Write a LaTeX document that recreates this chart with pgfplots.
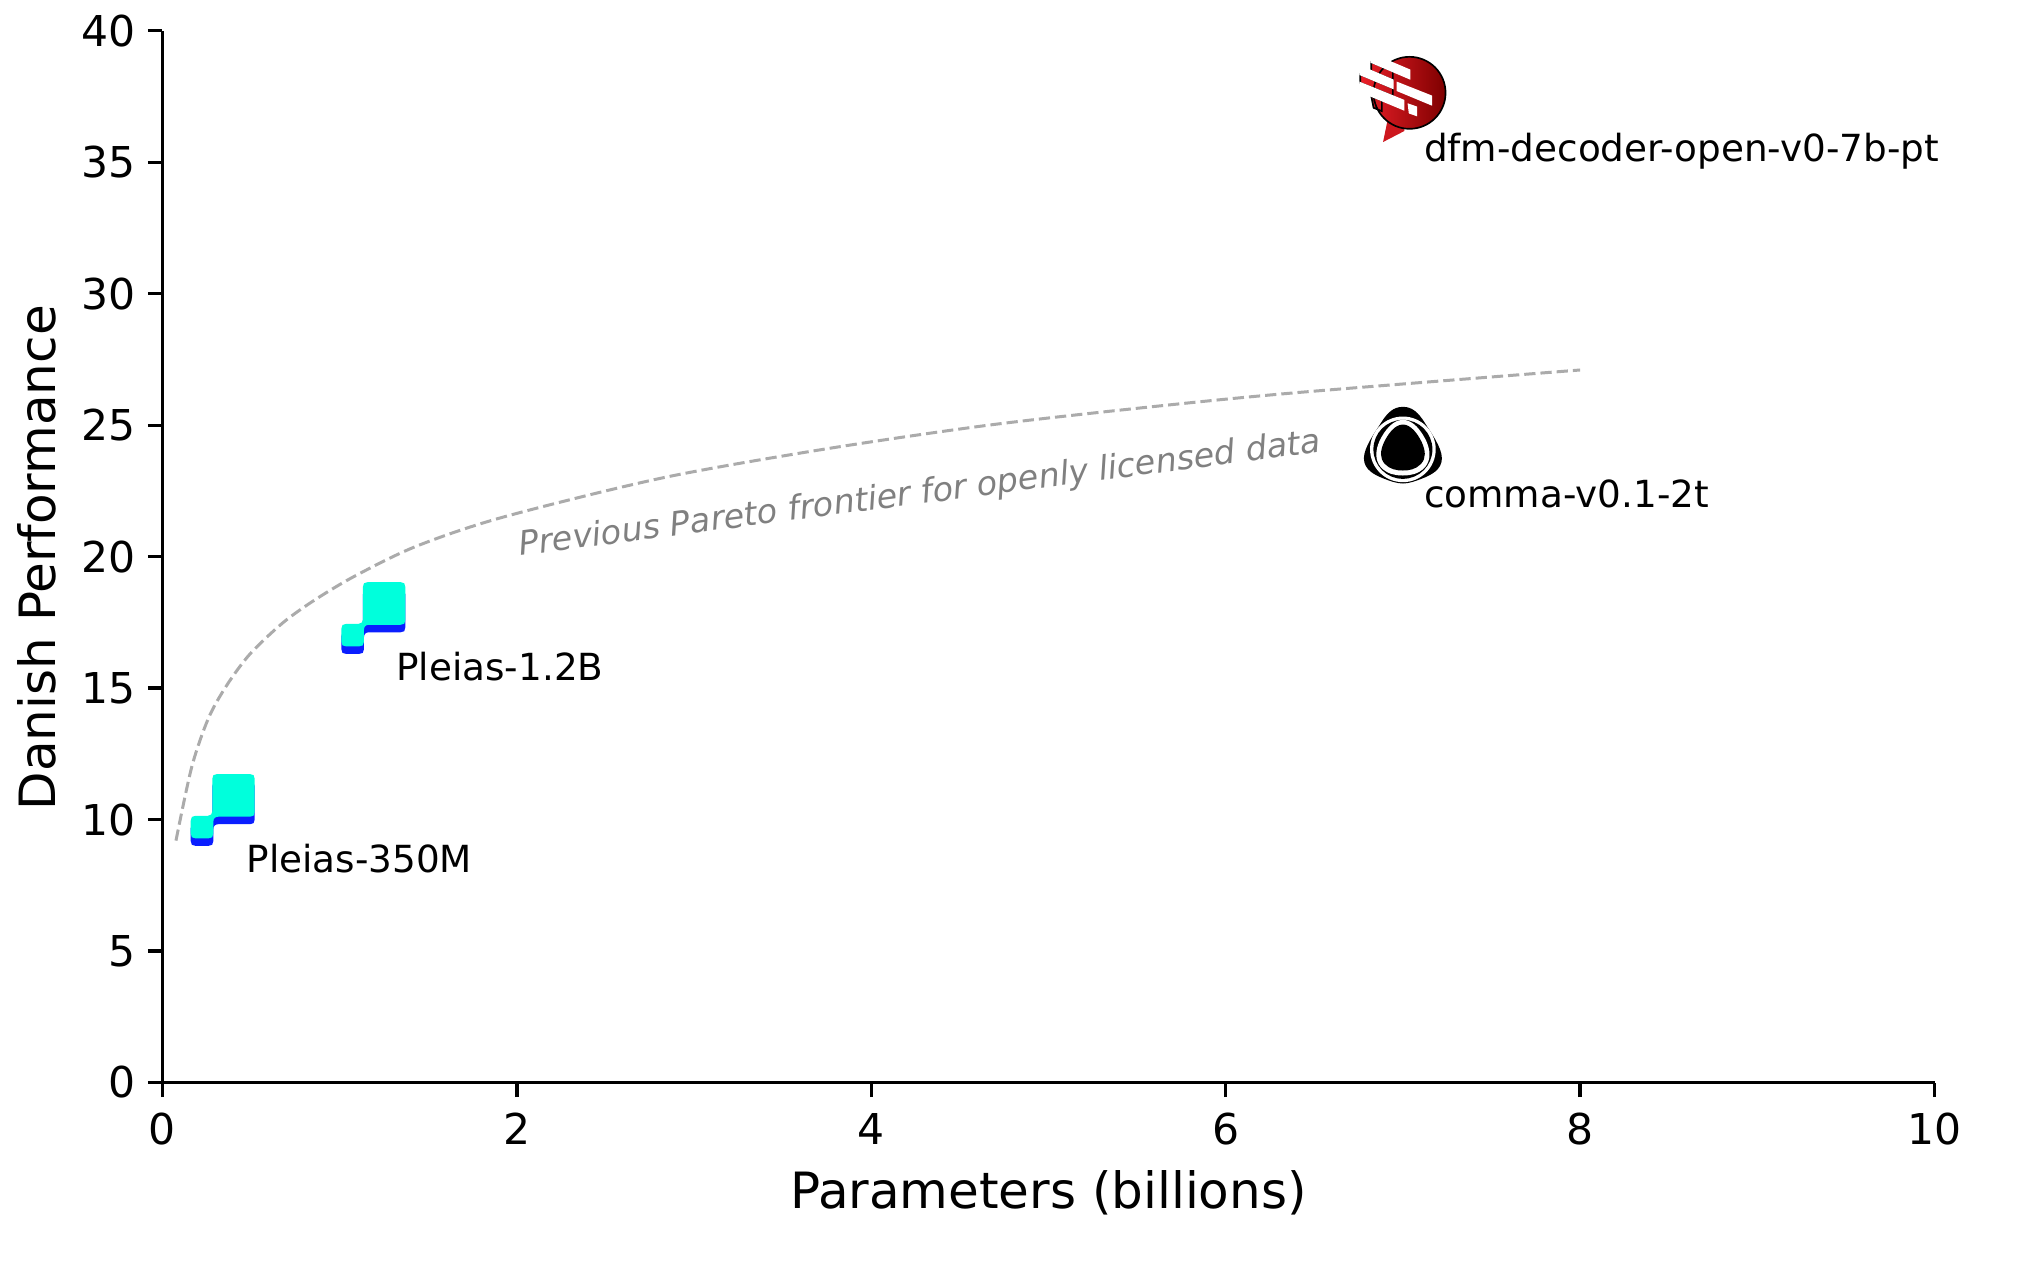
\documentclass[border=0pt]{standalone}
\usepackage{pgfplots}
\pgfplotsset{compat=1.18}
\usepackage{fontspec}
\setmainfont{DejaVu Sans}
\definecolor{pteal}{HTML}{00FFDC}
\definecolor{pblue}{HTML}{0A1EFF}
\definecolor{dfmL}{HTML}{EC2029}
\definecolor{dfmR}{HTML}{7E0000}
\definecolor{frontier}{HTML}{ABABAB}
\definecolor{annot}{HTML}{808080}
\def\pleiasshape{(-9.6,30.7) .. controls (-9.6,33.5) and (-8.5,34.7) .. (-5.6,34.7) -- (27.1,34.7) .. controls (30,34.7) and (31.1,33.5) .. (31.1,30.7) -- (31.1,-2.3) .. controls (31.1,-5.2) and (30,-6.3) .. (27.1,-6.3) -- (-4.6,-6.3) .. controls (-8,-6.3) and (-10.2,-8.5) .. (-10.2,-12) -- (-10.2,-23.7) .. controls (-10.2,-26.8) and (-11.5,-28) .. (-14.6,-28) -- (-26.9,-28) .. controls (-30,-28) and (-31.2,-26.8) .. (-31.2,-23.7) -- (-31.2,-11.3) .. controls (-31.2,-8.2) and (-30,-7) .. (-26.9,-7) -- (-14.6,-7) .. controls (-11.5,-7) and (-9.6,-5) .. (-9.6,-2) -- cycle}
\pgfdeclareplotmark{pleias}{%
  \begin{scope}[x=0.24bp,y=0.24bp]
    \begin{pgfscope}
      \pgftransformshift{\pgfpoint{0bp}{-1.8bp}}
      \fill[pblue] \pleiasshape;
    \end{pgfscope}
    \fill[pteal] \pleiasshape;
  \end{scope}}
\pgfdeclareplotmark{dfm}{%
  \begin{scope}[x=0.08bp,y=-0.08bp]
    \pgftransformshift{\pgfpoint{-19.84bp}{16.6bp}}
    \fill[dfmL!72!dfmR] (205,270) -- (192,333) -- (250,303) -- (245,270) -- cycle;
    \shade[left color=dfmL,right color=dfmR]
      (268,190) circle[radius=108]
      (153,98) -- (218,125) -- (218,152) -- (153,125) -- cycle
      (120,135) -- (218,176) -- (218,200) -- (120,160) -- cycle
      (153,200) -- (185,213) -- (185,245) -- (160,235) -- cycle;
    \fill[white] (153,73) -- (268,122) -- (268,147) -- (153,98) -- cycle;
    \fill[white] (120,110) -- (218,152) -- (218,176) -- (120,135) -- cycle;
    \fill[white] (232,160) -- (333,200) -- (333,225) -- (232,183) -- cycle;
    \fill[white] (120,160) -- (250,213) -- (250,240) -- (120,186) -- cycle;
    \fill[white] (265,225) -- (288,233) -- (288,257) -- (268,250) -- cycle;
  \end{scope}}
\pgfdeclareplotmark{comma}{%
  \begin{scope}[x=0.08bp,y=-0.08bp]
    \pgftransformshift{\pgfpoint{-17.4bp}{13.4bp}}
    \fill[black] (217.5,55) .. controls (245,55) and (262,72) .. (280,100) .. controls (300,132) and (332,175) .. (332,207) .. controls (332,240) and (300,255) .. (275,265) .. controls (255,273) and (235,280) .. (217.5,280) .. controls (200,280) and (180,273) .. (160,265) .. controls (135,255) and (103,240) .. (103,207) .. controls (103,175) and (135,132) .. (155,100) .. controls (173,72) and (190,55) .. (217.5,55) -- cycle;
    \fill[white] (217.5,180) circle[radius=96];
    \fill[black] (217.5,180) circle[radius=86];
    \fill[white] (217.5,94) .. controls (188,94) and (165,125) .. (150,155) .. controls (138,182) and (135,210) .. (153,232) .. controls (172,252) and (195,256) .. (217.5,256) .. controls (240,256) and (263,252) .. (282,232) .. controls (300,210) and (297,182) .. (285,155) .. controls (270,125) and (247,94) .. (217.5,94) -- cycle;
    \fill[black] (217.5,108) .. controls (195,108) and (175,135) .. (163,160) .. controls (152,185) and (150,205) .. (165,222) .. controls (180,238) and (200,241) .. (217.5,241) .. controls (235,241) and (255,238) .. (270,222) .. controls (285,205) and (283,185) .. (272,160) .. controls (260,135) and (240,108) .. (217.5,108) -- cycle;
  \end{scope}}
\begin{document}
\begin{tikzpicture}
\path[use as bounding box] (-39bp,-44.76bp) rectangle (447bp,259.8bp);
\begin{axis}[
  at={(0,0)}, anchor=south west,
  scale only axis, width=425.28bp, height=252.4bp,
  xmin=0, xmax=10, ymin=0, ymax=40,
  xtick={0,2,4,6,8,10}, ytick={0,5,10,15,20,25,30,35,40},
  axis x line*=bottom, axis y line*=left,
  axis line style={line width=0.8bp,-},
  tick style={line width=0.8bp,black},
  tick align=outside, major tick length=3.5bp,
  clip=false,
  tick label style={font=\fontsize{10.2bp}{12bp}\selectfont,/pgf/number format/assume math mode=true},
  xticklabel style={anchor=base,yshift=-11.3bp},
  yticklabel style={anchor=east,xshift=0.6bp},
  xlabel={Parameters (billions)},
  ylabel={Danish Performance},
  every axis x label/.style={at={(axis description cs:0.5,-0.1194)},anchor=base,font=\fontsize{12bp}{14bp}\selectfont},
  every axis y label/.style={at={(axis description cs:-0.0604,0.499)},rotate=90,anchor=base,font=\fontsize{12bp}{14bp}\selectfont},
]
\addplot[smooth,frontier,line width=0.72bp,dash pattern=on 2.7bp off 1.2bp] coordinates {
 (0.076,9.2)(0.165,12.0)(0.259,13.85)(0.362,15.1)(0.494,16.3)(0.682,17.5)(0.87,18.4)(1.096,19.3)(1.434,20.4)(1.92,21.5)(2.824,23.0)(3.745,24.1)(4.66,25.0)(5.58,25.7)(6.42,26.25)(8.0,27.1)};
\addplot[only marks,mark=pleias] coordinates {(0.34,10.38)(1.19,17.68)};
\addplot[only marks,mark=comma] coordinates {(7.0,24.24)};
\addplot[only marks,mark=dfm] coordinates {(7.0,37.42)};
\node[anchor=base west,inner sep=0pt,font=\fontsize{8.96bp}{10bp}\selectfont] at (axis cs:7.115,35.03) {dfm-decoder-open-v0-7b-pt};
\node[anchor=base west,inner sep=0pt,font=\fontsize{8.96bp}{10bp}\selectfont] at (axis cs:7.115,21.86) {comma-v0.1-2t};
\node[anchor=base west,inner sep=0pt,font=\fontsize{8.96bp}{10bp}\selectfont] at (axis cs:1.315,15.3) {Pleias-1.2B};
\node[anchor=base west,inner sep=0pt,font=\fontsize{8.96bp}{10bp}\selectfont] at (axis cs:0.47,8.0) {Pleias-350M};
\node[anchor=base west,inner sep=0pt,rotate=7.4,text=annot,font=\fontsize{8bp}{10bp}\selectfont\itshape] at (axis cs:2.015,20.03) {Previous Pareto frontier for openly licensed data};
\end{axis}
\end{tikzpicture}
\end{document}
